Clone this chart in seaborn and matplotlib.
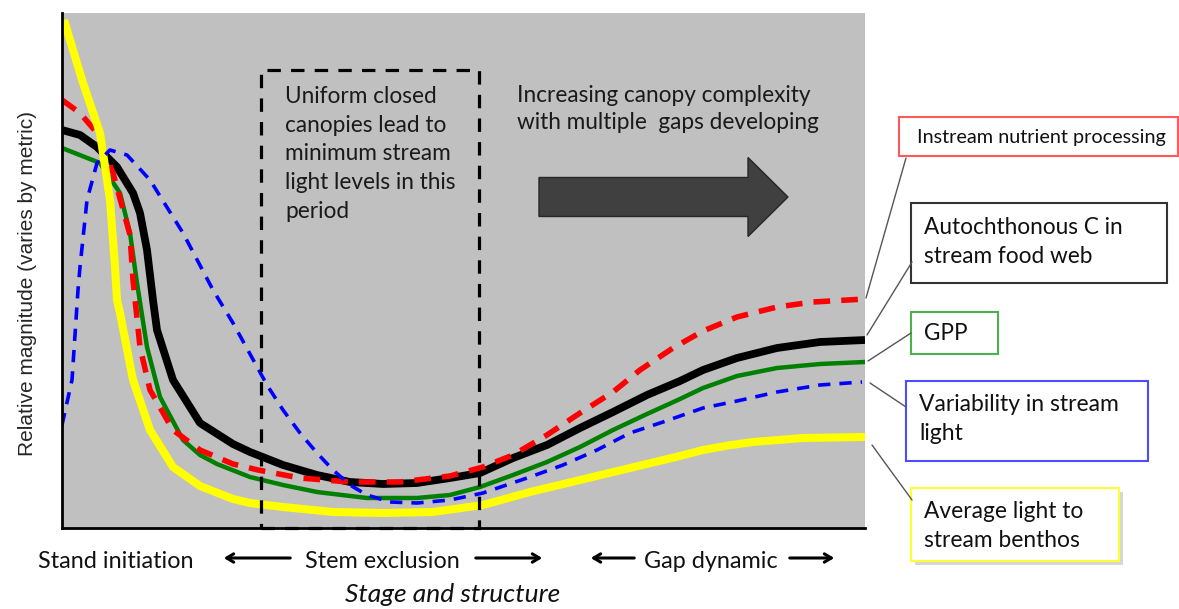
import matplotlib.pyplot as plt
import matplotlib.patches as mpatches
from matplotlib.lines import Line2D
import pandas as pd
import seaborn as sns

# Relative stand development (x) and relative magnitude (y), arbitrary units
light_x = [2, 21, 38, 48, 53, 55, 58, 71, 88, 111, 138, 171, 188, 221, 271, 321, 371, 421,
           468, 518, 568, 618, 641, 666, 691, 741, 803]
light_y = [508, 445, 395, 328, 261, 228, 215, 148, 98, 61, 42, 29, 25, 21, 16, 15, 16, 23,
           36, 48, 60, 72, 78, 82.5, 86, 90, 91]

autoc_x = [0, 18, 35, 55, 71, 78, 85, 91, 95, 111, 138, 171, 188, 221, 255, 288, 321, 355,
           388, 418, 451, 485, 518, 551, 585, 618, 641, 675, 715, 758, 803]
autoc_y = [398, 393, 381, 361, 335, 315, 278, 228, 198, 148, 105, 84, 76, 63, 53, 46, 44, 45,
           50, 55, 70, 83, 100, 116, 133, 147, 158, 170, 180, 186, 188]

nutrient_x = [0, 18, 35, 51, 68, 71, 78, 88, 111, 138, 171, 196, 238, 288, 338, 388, 421,
              451, 485, 518, 551, 578, 611, 641, 675, 715, 751, 803]
nutrient_y = [428, 415, 395, 355, 293, 248, 181, 138, 98, 78, 64, 58, 50, 46, 46, 52, 61,
              73, 93, 115, 136, 158, 180, 197, 211, 221, 226, 229]

gpp_x = [0, 38, 58, 68, 75, 85, 98, 121, 138, 155, 188, 221, 255, 305, 355, 388, 418, 451,
         485, 518, 551, 585, 618, 641, 675, 715, 758, 803]
gpp_y = [380, 365, 335, 295, 245, 181, 131, 88, 73, 64, 51, 43, 36, 30, 30, 33, 41, 53,
         66, 81, 98, 114, 129, 140, 152, 160, 164, 166]

var_x = [0, 10, 16, 18, 25, 35, 48, 65, 88, 121, 151, 171, 205, 221, 238, 255, 271, 288,
         305, 328, 355, 388, 421, 468, 501, 535, 568, 601, 641, 675, 715, 758, 800]
var_y = [103, 148, 238, 261, 328, 365, 378, 373, 348, 295, 238, 205, 143, 118, 95, 75, 58,
         43, 33, 26, 25, 28, 35, 51, 63, 78, 95, 106, 120, 127, 136, 143, 146]

stage_labels = ["Stand initiation", "Stem exclusion", "Gap dynamic"]
metric_labels = ["Instream nutrient processing", "Autochthonous C in\nstream food web", "GPP",
                 "Variability in stream\nlight", "Average light to\nstream benthos"]

W, H = 1179, 609


def fx(px):
    return px / W


def fy(py):
    return 1 - py / H


sns.set_style("white")
plt.rcParams["font.family"] = ["Lato", "DejaVu Sans"]

fig = plt.figure(figsize=(W / 100, H / 100), dpi=100)
ax = fig.add_axes([fx(62), fy(528), fx(865) - fx(62), fy(13) - fy(528)])
ax.set_facecolor("#c0c0c0")
ax.set_xlim(0, 803)
ax.set_ylim(0, 515)
ax.set_xticks([])
ax.set_yticks([])
for side in ["top", "right"]:
    ax.spines[side].set_visible(False)
for side in ["left", "bottom"]:
    ax.spines[side].set_color("black")
    ax.spines[side].set_linewidth(2)

series = [
    (autoc_x, autoc_y, "black", 5.6, "-"),
    (gpp_x, gpp_y, "#008000", 3.2, "-"),
    (nutrient_x, nutrient_y, "#ff0000", 4.0, (0, (3.0, 2.0))),
    (light_x, light_y, "#ffff00", 5.8, "-"),
    (var_x, var_y, "#0000ff", 2.6, (0, (3.4, 2.5))),
]
for xs, ys, color, lw, ls in series:
    df = pd.DataFrame({"x": xs, "y": ys})
    sns.lineplot(data=df, x="x", y="y", ax=ax, color=color, linewidth=lw,
                 estimator=None, sort=False)
    line = ax.lines[-1]
    line.set_linestyle(ls)
    line.set_solid_capstyle("butt")
    line.set_solid_joinstyle("round")
    line.set_dash_joinstyle("round")

# stem exclusion window
ax.add_patch(mpatches.Rectangle((199, 0), 218, 458, fill=False, edgecolor="black",
                                linewidth=2.3, linestyle=(0, (4.2, 3.2)), clip_on=False, zorder=5))
ax.text(223, 374, "Uniform closed\ncanopies lead to\nminimum stream\nlight levels in this\nperiod",
        fontsize=16.3, va="center", ha="left", linespacing=1.46, color="#1a1a1a")
ax.text(455, 419, "Increasing canopy complexity\nwith multiple  gaps developing",
        fontsize=16.3, va="center", ha="left", linespacing=1.39, color="#1a1a1a")
ax.add_patch(mpatches.FancyArrow(477, 331, 249, 0, width=39, head_width=79, head_length=40,
                                 length_includes_head=True, facecolor="#404040",
                                 edgecolor="#262626", linewidth=1))
ax.set_xlabel("")
ax.set_ylabel("")

fig.text(fx(28), fy(283), "Relative magnitude (varies by metric)", rotation=90,
         ha="center", va="center", fontsize=15, family=["Liberation Sans", "DejaVu Sans"])

# stage labels along the bottom
for label, cx in zip(stage_labels, [116, 382, 711]):
    fig.text(fx(cx), fy(561), label, ha="center", va="center", fontsize=16.8, color="#111111")
for x0, x1 in [(293, 221), (473, 545), (637, 588), (787, 837)]:
    fig.add_artist(mpatches.FancyArrowPatch((fx(x0), fy(558)), (fx(x1), fy(558)),
                                            transform=fig.transFigure,
                                            arrowstyle="->,head_length=5,head_width=3",
                                            color="black", linewidth=2.2))
fig.text(fx(453), fy(595), "Stage and structure", ha="center", va="center", fontsize=19,
         style="italic", color="#111111")

# metric callouts
boxes = [
    # left, top, right, bottom, edge, text x, text y, size, leader
    (899, 117, 1178, 156, "#ff5a5a", 917, 137, 14.3, (906, 158, 866, 298)),
    (911, 203, 1167, 283, "#333333", 924, 242, 16.3, (912, 262, 867, 335)),
    (911, 312, 998, 354, "#4caf50", 924, 334, 16.3, (911, 333, 868, 361)),
    (906, 381, 1148, 461, "#4b4bff", 919, 419, 16.5, (906, 407, 870, 383)),
    (911, 488, 1119, 561, "#ffff33", 924, 526, 16.4, (912, 500, 872, 445)),
]
for (l, t, r, b, edge, tx, ty, fs, lead), label in zip(boxes, metric_labels):
    if edge == "#ffff33":
        fig.add_artist(mpatches.Rectangle((fx(l + 4), fy(b + 4)), fx(r) - fx(l), fy(t) - fy(b),
                                          transform=fig.transFigure, facecolor="#bbbbbb",
                                          edgecolor="none", alpha=0.6))
    fig.add_artist(mpatches.Rectangle((fx(l), fy(b)), fx(r) - fx(l), fy(t) - fy(b),
                                      transform=fig.transFigure, facecolor="white",
                                      edgecolor=edge, linewidth=1.5))
    fig.text(fx(tx), fy(ty), label, ha="left", va="center", fontsize=fs, linespacing=1.42,
             color="#111111")
    fig.add_artist(Line2D([fx(lead[0]), fx(lead[2])], [fy(lead[1]), fy(lead[3])],
                          transform=fig.transFigure, color="#555555", linewidth=1))

fig.savefig("out.png", dpi=100)
